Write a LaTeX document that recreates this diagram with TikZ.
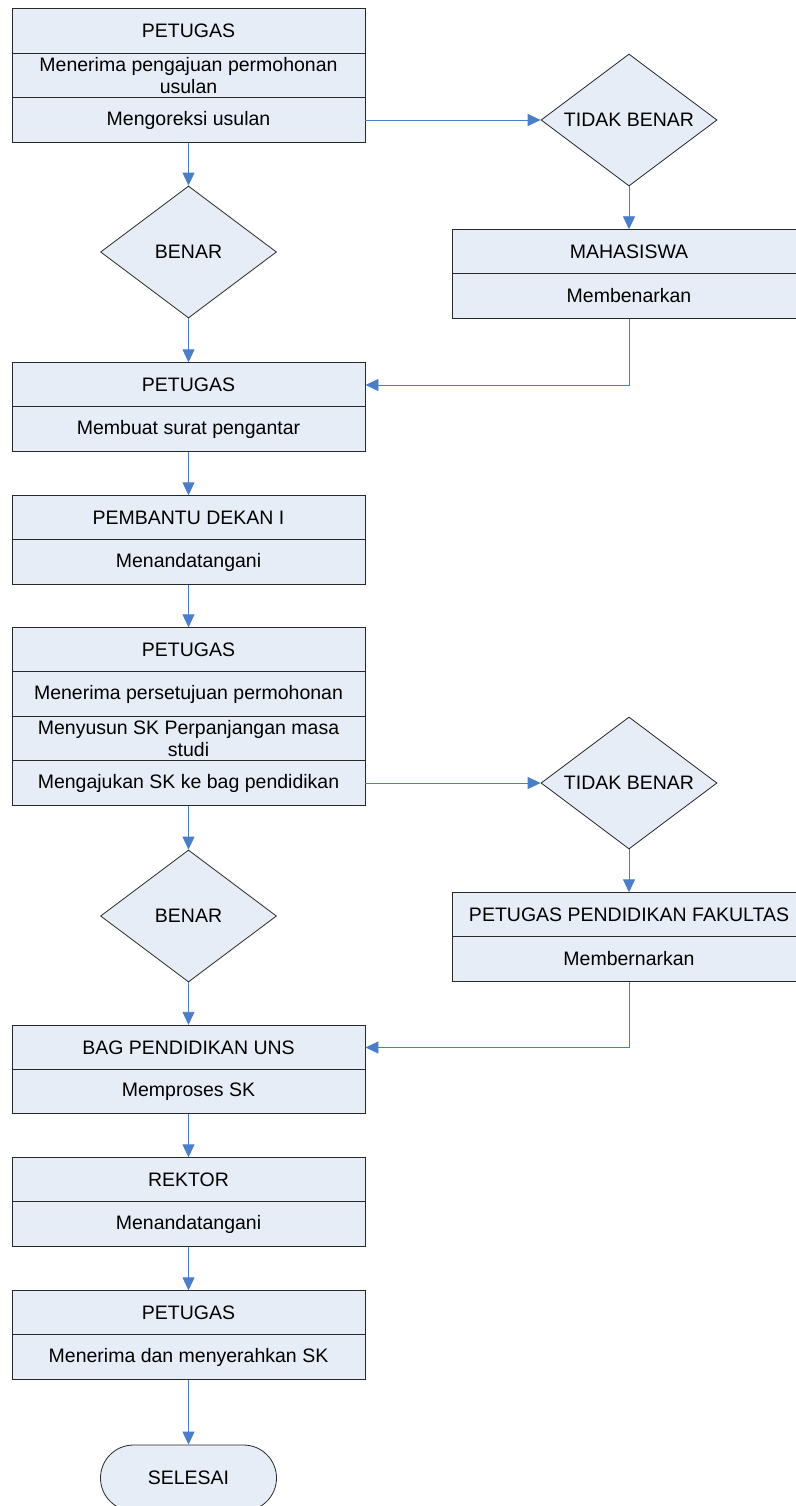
\documentclass[tikz,border=0pt]{standalone}
\usepackage{fontspec}
\setmainfont{Liberation Sans}
\usetikzlibrary{shapes.geometric,shapes.misc,arrows.meta}
\definecolor{boxfill}{RGB}{231,237,247}
\definecolor{flowblue}{RGB}{74,126,200}
\definecolor{boxline}{RGB}{40,40,40}

\begin{document}
\begin{tikzpicture}[x=1pt,y=-1pt,
  rowbox/.style={rectangle,draw=boxline,fill=boxfill,line width=0.9pt,minimum width=353pt,minimum height=44.5pt,inner sep=0pt,align=center,font=\fontsize{19.5}{22.5}\selectfont},
  decide/.style={diamond,draw=boxline,fill=boxfill,line width=0.8pt,aspect=1.333,minimum width=176pt,minimum height=132pt,inner sep=0pt,font=\fontsize{19.5}{22.5}\selectfont},
  endcap/.style={rounded rectangle,draw=boxline,fill=boxfill,line width=0.8pt,minimum width=176pt,minimum height=66pt,inner sep=0pt,font=\fontsize{19.5}{22.5}\selectfont},
  flow/.style={draw=flowblue,line width=0.9pt,-{Triangle[length=13pt,width=12pt]}}]
  \useasboundingbox (0,0) rectangle (795,1506);
  % left column
  \node[rowbox] (p1a) at (188.5,31) {PETUGAS};
  \node[rowbox] (p1b) at (188.5,75.5) {Menerima pengajuan permohonan\\usulan};
  \node[rowbox] (p1c) at (188.5,120) {Mengoreksi usulan};
  \node[decide] (ben1) at (188.5,252) {BENAR};
  \node[rowbox] (p2a) at (188.5,385) {PETUGAS};
  \node[rowbox] (p2b) at (188.5,429) {Membuat surat pengantar};
  \node[rowbox] (pd1a) at (188.5,518) {PEMBANTU DEKAN I};
  \node[rowbox] (pd1b) at (188.5,562) {Menandatangani};
  \node[rowbox] (p3a) at (188.5,650) {PETUGAS};
  \node[rowbox] (p3b) at (188.5,694) {Menerima persetujuan permohonan};
  \node[rowbox] (p3c) at (188.5,738.5) {Menyusun SK Perpanjangan masa\\studi};
  \node[rowbox] (p3d) at (188.5,783) {Mengajukan SK ke bag pendidikan};
  \node[decide] (ben2) at (188.5,916) {BENAR};
  \node[rowbox] (bag1) at (188.5,1047.5) {BAG PENDIDIKAN UNS};
  \node[rowbox] (bag2) at (188.5,1091.5) {Memproses SK};
  \node[rowbox] (rek1) at (188.5,1180) {REKTOR};
  \node[rowbox] (rek2) at (188.5,1224) {Menandatangani};
  \node[rowbox] (p4a) at (188.5,1313) {PETUGAS};
  \node[rowbox] (p4b) at (188.5,1357) {Menerima dan menyerahkan SK};
  \node[endcap] (sls) at (188.5,1478) {SELESAI};
  % right column
  \node[decide] (tb1) at (629,120) {TIDAK BENAR};
  \node[rowbox] (mhs1) at (629,252) {MAHASISWA};
  \node[rowbox] (mhs2) at (629,296) {Membenarkan};
  \node[decide] (tb2) at (629,783) {TIDAK BENAR};
  \node[rowbox] (ppf1) at (629,915) {PETUGAS PENDIDIKAN FAKULTAS};
  \node[rowbox] (ppf2) at (629,959) {Membernarkan};
  % connectors
  \draw[flow] (p1c.south) -- (ben1.north);
  \draw[flow] (p1c.east) -- (tb1.west);
  \draw[flow] (tb1.south) -- (mhs1.north);
  \draw[flow] (mhs2.south) |- (p2a.east);
  \draw[flow] (ben1.south) -- (p2a.north);
  \draw[flow] (p2b.south) -- (pd1a.north);
  \draw[flow] (pd1b.south) -- (p3a.north);
  \draw[flow] (p3d.south) -- (ben2.north);
  \draw[flow] (p3d.east) -- (tb2.west);
  \draw[flow] (tb2.south) -- (ppf1.north);
  \draw[flow] (ppf2.south) |- (bag1.east);
  \draw[flow] (ben2.south) -- (bag1.north);
  \draw[flow] (bag2.south) -- (rek1.north);
  \draw[flow] (rek2.south) -- (p4a.north);
  \draw[flow] (p4b.south) -- (sls.north);
\end{tikzpicture}
\end{document}
